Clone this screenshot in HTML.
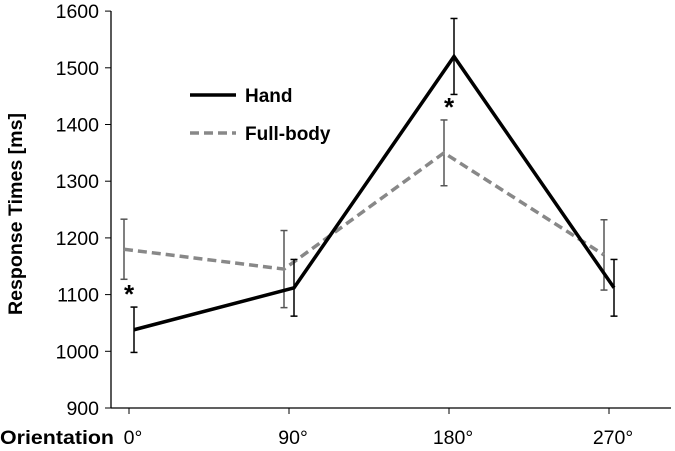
<!DOCTYPE html>
<html><head><meta charset="utf-8"><style>
body{margin:0;background:#fff}
svg{font-family:"Liberation Sans",sans-serif}
</style></head><body>
<svg width="675" height="446" viewBox="0 0 675 446">
<g id="axes"></g><g id="series"></g>
<g>
<line x1="190" y1="95" x2="236" y2="95" stroke="#000" stroke-width="3.5"/>
<text x="245" y="102" font-size="19" font-weight="bold">Hand</text>
<line x1="190" y1="133" x2="236" y2="133" stroke="#888" stroke-width="3.5" stroke-dasharray="9,5"/>
<text x="245" y="140" font-size="19" font-weight="bold">Full-body</text>
</g>
<text transform="translate(22,214) rotate(-90)" text-anchor="middle" font-size="19" font-weight="bold" textLength="202" lengthAdjust="spacingAndGlyphs">Response Times [ms]</text>
<text x="0" y="444" font-size="19" font-weight="bold" textLength="114" lengthAdjust="spacingAndGlyphs">Orientation</text>
</svg>
<script>
const categories=["0°","90°","180°","270°"];
const yTicks=[900,1000,1100,1200,1300,1400,1500,1600];
const handValues=[1038,1112,1520,1112];
const handErrors=[40,50,67,50];
const fullValues=[1180,1145,1350,1170];
const fullErrors=[53,68,58,62];
const sigMarks=[0,2];
const NS="http://www.w3.org/2000/svg";
const X=i=>129+i*160, Y=v=>408-(v-900)*0.567;
function mk(t,a,p){const e=document.createElementNS(NS,t);for(const k in a)e.setAttribute(k,a[k]);p.appendChild(e);return e;}
const ax=document.getElementById('axes'), se=document.getElementById('series');
let l=mk('line',{x1:111,y1:11,x2:111,y2:408,stroke:'#000','stroke-width':1.3},ax);


l=mk('line',{x1:111,y1:408,x2:671,y2:408,stroke:'#000','stroke-width':1.3},ax);


yTicks.forEach(v=>{mk('line',{x1:105,y1:Y(v),x2:111,y2:Y(v),stroke:'#000'},ax);
 const t=mk('text',{x:99,y:Y(v)+7,'text-anchor':'end','font-size':19.5},ax);t.textContent=v;
 
 });
categories.forEach((c,i)=>{mk('line',{x1:X(i),y1:408,x2:X(i),y2:414,stroke:'#000'},ax);
 const t=mk('text',{x:X(i)+4,y:444,'text-anchor':'middle','font-size':19.5},ax);t.textContent=c;
 
 });
function series(vals,errs,off,color,ecolor,dash,name){
 const g=mk('g',{},se);
 
 
 vals.forEach((v,i)=>{const x=X(i)+off;
  mk('line',{x1:x,y1:Y(v-errs[i]),x2:x,y2:Y(v+errs[i]),stroke:ecolor,'stroke-width':1.5},g);
  mk('line',{x1:x-3.5,y1:Y(v-errs[i]),x2:x+3.5,y2:Y(v-errs[i]),stroke:ecolor,'stroke-width':1.5},g);
  mk('line',{x1:x-3.5,y1:Y(v+errs[i]),x2:x+3.5,y2:Y(v+errs[i]),stroke:ecolor,'stroke-width':1.5},g);});
 const p=mk('polyline',{points:vals.map((v,i)=>(X(i)+off)+','+Y(v)).join(' '),fill:'none',stroke:color,'stroke-width':3.5},g);
 if(dash)p.setAttribute('stroke-dasharray',dash);
}
series(fullValues,fullErrors,-5,'#888','#555','9,5','full-body-series');
series(handValues,handErrors,5,'#000','#000',null,'hand-series');
sigMarks.forEach(i=>{const yv=i==0?handValues[i]+handErrors[i]:fullValues[i]+fullErrors[i];
 const t=mk('text',{x:X(i),y:Y(yv)-4,'text-anchor':'middle','font-size':26,'font-weight':'bold'},se);
 t.textContent='*';
 
 });
</script>
</body></html>
